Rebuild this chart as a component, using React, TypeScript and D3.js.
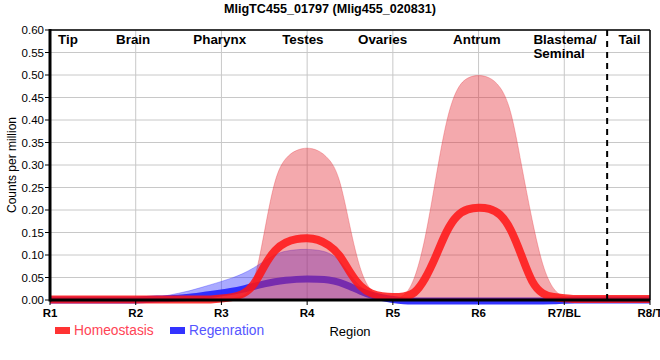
import React from 'react';
import * as d3 from 'd3';

const W = 660;
const H = 360;
const PLOT = { left: 50, right: 650, top: 30, bottom: 300 };
const FONT = 'Liberation Sans, Arial, sans-serif';

// positions along the body axis, in region units (R1 = 1 ... R8 = 8), 1/8 steps
const positions = d3.range(57).map(i => 1 + i / 8);

// Homeostasis: upper edge of the band and the mean line
const homeoUpper = [
  0.002, 0.002, 0.002, 0.002, 0.002, 0.002, 0.002, 0.002,
  0.002, 0.002, 0.002, 0.002, 0.002, 0.002, 0.002, 0.002,
  0.002, 0.003, 0.007, 0.025, 0.15, 0.277, 0.318, 0.334,
  0.339, 0.334, 0.316, 0.28, 0.16, 0.058, 0.016, 0.006,
  0.003, 0.005, 0.04, 0.13, 0.27, 0.405, 0.475, 0.496,
  0.5, 0.496, 0.477, 0.43, 0.3, 0.175, 0.07, 0.02,
  0.005, 0.002, 0.002, 0.002, 0.002, 0.002, 0.002, 0.002, 0.002,
];
const homeoMean = [
  0.001, 0.001, 0.001, 0.001, 0.001, 0.001, 0.001, 0.001,
  0.001, 0.001, 0.001, 0.001, 0.001, 0.001, 0.001, 0.001,
  0.003, 0.006, 0.012, 0.03, 0.077, 0.113, 0.129, 0.136,
  0.138, 0.135, 0.123, 0.103, 0.06, 0.028, 0.013, 0.008,
  0.006, 0.007, 0.012, 0.045, 0.095, 0.155, 0.19, 0.203,
  0.206, 0.204, 0.193, 0.16, 0.1, 0.035, 0.012, 0.006,
  0.004, 0.002, 0.002, 0.002, 0.002, 0.002, 0.002, 0.002, 0.002,
];

// Regeneration: upper edge of the band and the mean line
const regenUpper = [
  0.002, 0.002, 0.002, 0.002, 0.002, 0.002, 0.002, 0.002,
  0.003, 0.004, 0.006, 0.01, 0.015, 0.02, 0.027, 0.034,
  0.041, 0.049, 0.058, 0.071, 0.086, 0.102, 0.109, 0.112,
  0.113, 0.111, 0.106, 0.09, 0.055, 0.027, 0.014, 0.008,
  0.004, 0.003, 0.003, 0.003, 0.003, 0.003, 0.003, 0.003,
  0.003, 0.003, 0.003, 0.003, 0.003, 0.003, 0.003, 0.003,
  0.003, 0.001, 0.001, 0.001, 0.001, 0.001, 0.001, 0.001, 0.001,
];
const regenMean = [
  0, 0, 0, 0, 0, 0, 0, 0,
  0, 0.001, 0.002, 0.003, 0.004, 0.006, 0.009, 0.012,
  0.016, 0.019, 0.024, 0.03, 0.036, 0.041, 0.044, 0.046,
  0.047, 0.046, 0.045, 0.04, 0.03, 0.019, 0.01, 0.005,
  0.001, -0.002, -0.002, -0.002, -0.002, -0.002, -0.002, -0.002,
  -0.002, -0.002, -0.002, -0.002, -0.002, -0.002, -0.002, -0.002,
  0, 0, 0, 0, 0, 0, 0, 0, 0,
];

const regionTicks = ['R1', 'R2', 'R3', 'R4', 'R5', 'R6', 'R7/BL', 'R8/T'];
const yTicks = [0, 0.05, 0.1, 0.15, 0.2, 0.25, 0.3, 0.35, 0.4, 0.45, 0.5, 0.55, 0.6];
const anatomy = [
  { name: 'Tip', at: 1.21 },
  { name: 'Brain', at: 1.97 },
  { name: 'Pharynx', at: 2.98 },
  { name: 'Testes', at: 3.95 },
  { name: 'Ovaries', at: 4.88 },
  { name: 'Antrum', at: 5.98 },
  { name: 'Tail', at: 7.76 },
];
const boundary = 7.5;

export default function App() {
  const x = d3.scaleLinear().domain([1, 8]).range([PLOT.left, PLOT.right]);
  const y = d3.scaleLinear().domain([0, 0.6]).range([PLOT.bottom, PLOT.top]);

  const band = (vals: number[]) =>
    d3.area<number>()
      .x((_, i) => x(positions[i]))
      .y0(y(0))
      .y1(d => y(d))
      .curve(d3.curveBasis)(vals) || '';
  const line = (vals: number[]) =>
    d3.line<number>()
      .x((_, i) => x(positions[i]))
      .y(d => y(d))
      .curve(d3.curveBasis)(vals) || '';

  return (
    <svg width={W} height={H} style={{ position: 'absolute', left: 0, top: 0, background: '#fff' }}
      fontFamily={FONT}>
      <rect width={W} height={H} fill="#fff" />
      <text x={330} y={13} textAnchor="middle" fontSize={12.6} fontWeight="bold">
        MligTC455_01797 (Mlig455_020831)
      </text>

      {/* grid */}
      {yTicks.map(t => (
        <line key={'h' + t} x1={PLOT.left} x2={PLOT.right} y1={y(t)} y2={y(t)} stroke="#c8c8c8" strokeWidth={1} />
      ))}
      {regionTicks.map((_, i) => (
        <line key={'v' + i} x1={x(i + 1)} x2={x(i + 1)} y1={PLOT.top} y2={PLOT.bottom} stroke="#c8c8c8" strokeWidth={1} />
      ))}

      {/* series */}
      <path d={band(regenUpper)} fill="rgb(50,50,255)" fillOpacity={0.42} stroke="rgb(50,50,255)" strokeOpacity={0.35} strokeWidth={1} />
      <path d={line(regenMean)} fill="none" stroke="rgb(40,40,255)" strokeOpacity={0.95} strokeWidth={7} />
      <path d={band(homeoUpper)} fill="rgb(228,40,50)" fillOpacity={0.4} stroke="rgb(228,40,50)" strokeOpacity={0.3} strokeWidth={1} />
      <path d={line(homeoMean)} fill="none" stroke="rgb(255,20,20)" strokeOpacity={0.85} strokeWidth={8} />

      {/* region boundary */}
      <line x1={x(boundary)} x2={x(boundary)} y1={PLOT.top} y2={PLOT.bottom} stroke="#000" strokeWidth={2} strokeDasharray="6,5" />

      {/* frame */}
      <line x1={PLOT.left} x2={PLOT.right} y1={PLOT.top} y2={PLOT.top} stroke="#000" strokeWidth={1.5} />
      <line x1={PLOT.right} x2={PLOT.right} y1={PLOT.top} y2={PLOT.bottom} stroke="#000" strokeWidth={1.5} />
      <line x1={PLOT.left} x2={PLOT.left} y1={PLOT.top - 1} y2={PLOT.bottom + 1.5} stroke="#000" strokeWidth={3} />
      <line x1={PLOT.left} x2={PLOT.right} y1={PLOT.bottom} y2={PLOT.bottom} stroke="#000" strokeWidth={3} />

      {/* y axis */}
      {yTicks.map(t => (
        <g key={'yt' + t}>
          <line x1={PLOT.left - 5} x2={PLOT.left} y1={y(t)} y2={y(t)} stroke="#000" />
          <text x={PLOT.left - 6} y={y(t)} dy="0.35em" textAnchor="end" fontSize={11.5}>{t.toFixed(2)}</text>
        </g>
      ))}
      <text transform={`translate(16,${(PLOT.top + PLOT.bottom) / 2}) rotate(-90)`} textAnchor="middle" fontSize={12}>
        Counts per million
      </text>

      {/* x axis */}
      {regionTicks.map((r, i) => (
        <g key={r}>
          <line x1={x(i + 1)} x2={x(i + 1)} y1={PLOT.bottom} y2={PLOT.bottom + 5} stroke="#000" />
          <text x={x(i + 1)} y={317} textAnchor="middle" fontSize={11.5} fontWeight="bold">{r}</text>
        </g>
      ))}
      <text x={(PLOT.left + PLOT.right) / 2} y={336} textAnchor="middle" fontSize={13}>Region</text>

      {/* anatomy labels */}
      {anatomy.map(a => (
        <text key={a.name} x={x(a.at)} y={44} textAnchor="middle" fontSize={13.4} fontWeight="bold">{a.name}</text>
      ))}
      <text x={x(6.64)} y={44} fontSize={13.4} fontWeight="bold">Blastema/</text>
      <text x={x(6.64)} y={58} fontSize={13.4} fontWeight="bold">Seminal</text>

      {/* legend */}
      <rect x={55} y={327} width={15} height={7} fill="#ff3333" />
      <text x={74} y={335} fontSize={13.8} fill="#ff4455">Homeostasis</text>
      <rect x={170} y={327} width={15} height={7} fill="#3333ff" />
      <text x={189} y={335} fontSize={13.8} fill="#5555ff">Regenration</text>
    </svg>
  );
}
